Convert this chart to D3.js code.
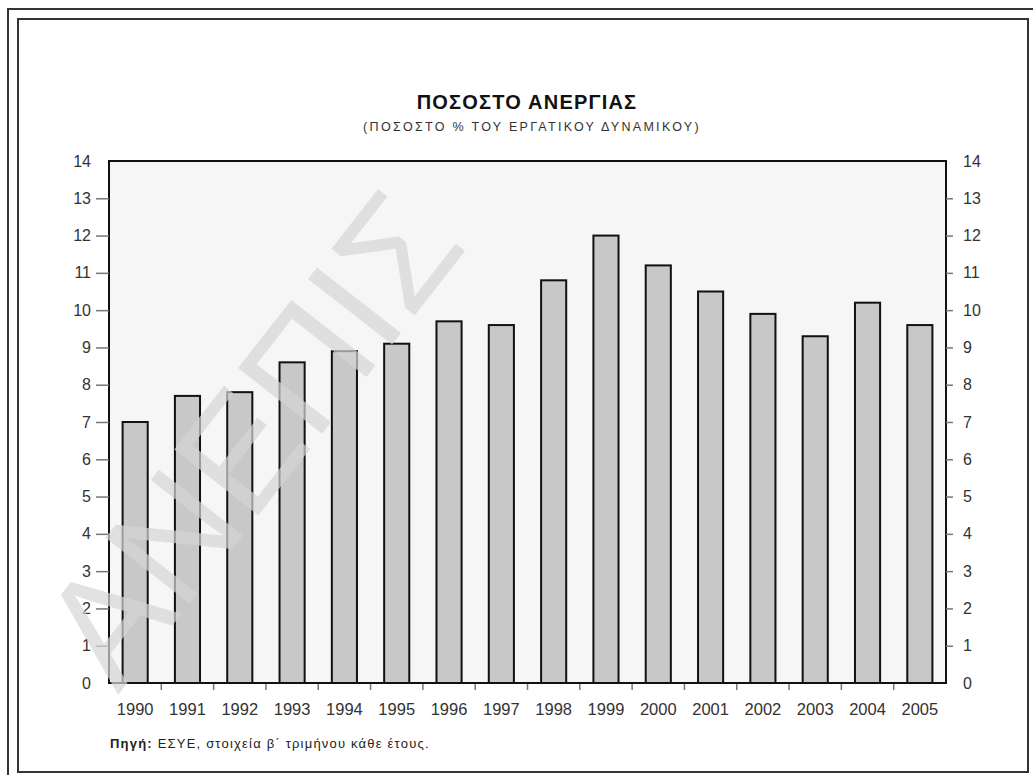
<!DOCTYPE html>
<html>
<head>
<meta charset="utf-8">
<script src="https://cdn.jsdelivr.net/npm/d3@7"></script>
<style>
  body { margin: 0; background: #fff; }
  svg { display: block; font-family: "Liberation Sans", Arial, sans-serif; }
  .tick text { fill: #333; }
</style>
</head>
<body>
<div class="chart"></div>
<script>
// Ποσοστό ανεργίας 1990-2005 (ΕΣΥΕ, β' τρίμηνο)
let years = ["1990", "1991", "1992", "1993", "1994", "1995", "1996", "1997",
  "1998", "1999", "2000", "2001", "2002", "2003", "2004", "2005"];
let rates = [7.0, 7.7, 7.8, 8.6, 8.9, 9.1, 9.7, 9.6, 10.8, 12.0, 11.2, 10.5, 9.9, 9.3, 10.2, 9.6];
let yTicks = d3.range(0, 15);

let svgWidth = 1033;
let svgHeight = 775;

let margin = { top: 161, right: 87, bottom: 92, left: 109 };
let width = svgWidth - margin.left - margin.right;
let height = svgHeight - margin.top - margin.bottom;

let svg = d3.select(".chart")
  .append("svg")
  .attr("width", svgWidth)
  .attr("height", svgHeight);

// double frame
svg.append("path")
  .attr("d", `M8,775 L8,9 L1033,9`)
  .attr("fill", "none")
  .attr("stroke", "#333")
  .attr("stroke-width", 2);
svg.append("rect")
  .attr("x", 18).attr("y", 19)
  .attr("width", 1010).attr("height", 753)
  .attr("fill", "none")
  .attr("stroke", "#333")
  .attr("stroke-width", 2);

// titles
svg.append("text")
  .attr("x", 527).attr("y", 109)
  .attr("text-anchor", "middle")
  .attr("font-size", 20)
  .attr("font-weight", "bold")
  .attr("letter-spacing", 1.2)
  .attr("fill", "#111")
  .text("ΠΟΣΟΣΤΟ ΑΝΕΡΓΙΑΣ");

svg.append("text")
  .attr("x", 532).attr("y", 131)
  .attr("text-anchor", "middle")
  .attr("font-size", 12.5)
  .attr("letter-spacing", 2.3)
  .attr("fill", "#333")
  .text("(ΠΟΣΟΣΤΟ % ΤΟΥ ΕΡΓΑΤΙΚΟΥ ΔΥΝΑΜΙΚΟΥ)");

let chartGroup = svg.append("g")
  .attr("transform", `translate(${margin.left}, ${margin.top})`);

let xScale = d3.scaleBand()
  .domain(years)
  .range([0, width])
  .paddingInner(0.52)
  .paddingOuter(0.26);

let yScale = d3.scaleLinear()
  .domain([0, 14])
  .range([height, 0]);

// plot background
chartGroup.append("rect")
  .attr("width", width)
  .attr("height", height)
  .attr("fill", "#f6f6f6");

// bars
chartGroup.selectAll(".bar")
  .data(rates)
  .enter()
  .append("rect")
  .attr("class", "bar")
  .attr("x", (d, i) => xScale(years[i]))
  .attr("y", d => yScale(d))
  .attr("width", xScale.bandwidth())
  .attr("height", d => height - yScale(d))
  .attr("fill", "#c8c8c8")
  .attr("stroke", "#111")
  .attr("stroke-width", 2);

// plot border
chartGroup.append("rect")
  .attr("width", width)
  .attr("height", height)
  .attr("fill", "none")
  .attr("stroke", "#111")
  .attr("stroke-width", 2);

// axes
let leftAxis = d3.axisLeft(yScale).tickValues(yTicks).tickSize(13).tickPadding(5);
let rightAxis = d3.axisRight(yScale).tickValues(yTicks).tickSize(7).tickPadding(10);

let gLeft = chartGroup.append("g").call(leftAxis);
let gRight = chartGroup.append("g").attr("transform", `translate(${width},0)`).call(rightAxis);

[gLeft, gRight].forEach(g => {
  g.select(".domain").remove();
  g.selectAll(".tick line")
    .attr("stroke", "#777")
    .attr("stroke-width", 1.5)
    .attr("display", d => (d === 0 || d === 14) ? "none" : null);
  g.selectAll(".tick text")
    .attr("font-size", 16)
    .attr("font-family", "Liberation Sans, Arial, sans-serif");
});

// year labels
let bottomAxis = d3.axisBottom(xScale).tickSize(0).tickPadding(20);
let gBottom = chartGroup.append("g")
  .attr("transform", `translate(0, ${height})`)
  .call(bottomAxis);
gBottom.select(".domain").remove();
gBottom.selectAll(".tick text")
  .attr("font-size", 16.5)
  .attr("font-family", "Liberation Sans, Arial, sans-serif");

// separator ticks between categories
chartGroup.selectAll(".sep")
  .data(years.slice(0, -1))
  .enter()
  .append("line")
  .attr("class", "sep")
  .attr("x1", d => xScale(d) + xScale.bandwidth() / 2 + xScale.step() / 2)
  .attr("x2", d => xScale(d) + xScale.bandwidth() / 2 + xScale.step() / 2)
  .attr("y1", height + 1)
  .attr("y2", height + 7)
  .attr("stroke", "#777")
  .attr("stroke-width", 1.5);

// source note
let note = svg.append("text")
  .attr("x", 110).attr("y", 748)
  .attr("font-size", 13)
  .attr("letter-spacing", 1.2)
  .attr("fill", "#222");
note.append("tspan").attr("font-weight", "bold").text("Πηγή:");
note.append("tspan").text(" ΕΣΥΕ, στοιχεία β΄ τριμήνου κάθε έτους.");

// watermark
svg.append("text")
  .attr("transform", "translate(118,695) rotate(-52)")
  .attr("font-size", 155)
  .attr("fill", "#d6d6d6")
  .attr("opacity", 0.7)
  .text("ΑΝΕΠΙΣ");
</script>
</body>
</html>
